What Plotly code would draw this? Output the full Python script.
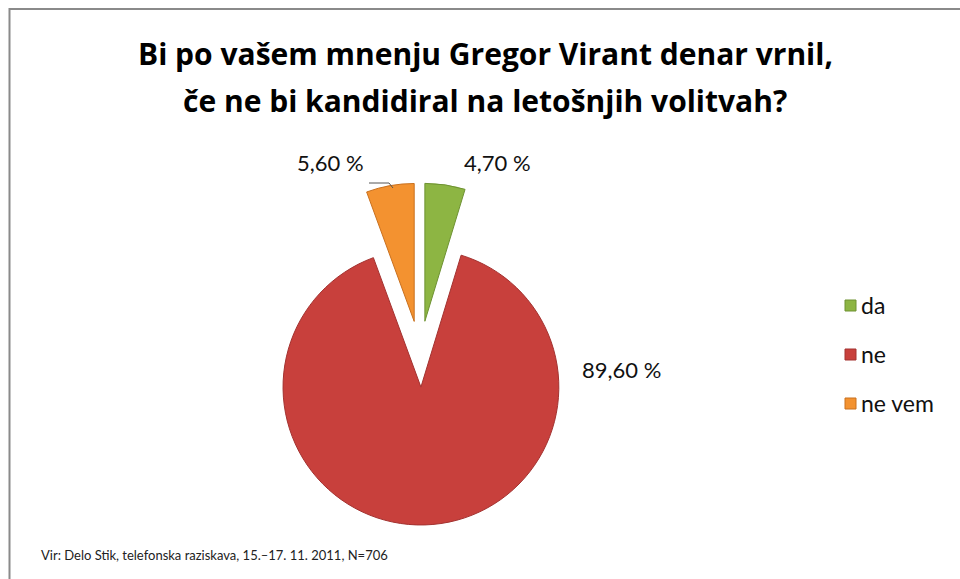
import plotly.graph_objects as go

# Data
categories = ["da", "ne", "ne vem"]
values = [4.70, 89.60, 5.60]
colors = ["#8DB543", "#C8403C", "#F39230"]
line_colors = ["#6E9232", "#A33230", "#C9701E"]

title_lines = ["Bi po vašem mnenju Gregor Virant denar vrnil,",
               "če ne bi kandidiral na letošnjih volitvah?"]
source_text = "Vir: Delo Stik, telefonska raziskava, 15.–17. 11. 2011, N=706"

W, H = 960, 579


def px(x):
    return x / W


def py(y):
    return 1 - y / H


def fmt(v):
    return f"{v:.2f}".replace(".", ",") + " %"


fig = go.Figure()
fig.add_trace(go.Pie(
    labels=categories,
    values=values,
    sort=False,
    direction="clockwise",
    rotation=0,
    pull=[0.24, 0.24, 0.24],
    marker=dict(colors=colors, line=dict(color=line_colors, width=1)),
    textinfo="none",
    hoverinfo="label+percent",
    showlegend=False,
    domain=dict(x=[px(249), px(591)], y=[py(525), py(183)]),
))

annotations = []
# Title lines
for i, (line, yc) in enumerate(zip(title_lines, [53, 100])):
    annotations.append(dict(
        text=f"<b>{line}</b>", x=px(485), y=py(yc), xref="paper", yref="paper",
        xanchor="center", yanchor="middle", showarrow=False,
        font=dict(family="Open Sans, Lato, sans-serif", size=30, color="#000000")))

# Data labels
label_pos = {"da": (497, 163, "center"), "ne": (621, 369, "center"), "ne vem": (330, 163, "center")}
for cat, v in zip(categories, values):
    x, y, anc = label_pos[cat]
    annotations.append(dict(
        text=fmt(v), x=px(x), y=py(y), xref="paper", yref="paper",
        xanchor=anc, yanchor="middle", showarrow=False,
        font=dict(family="Lato, Open Sans, sans-serif", size=22, color="#111111")))

# Manual legend
shapes = []
legend_y = [305, 354, 403]
for cat, col, lc, yc in zip(categories, colors, line_colors, legend_y):
    shapes.append(dict(type="rect", xref="paper", yref="paper",
                       x0=px(845), x1=px(856), y0=py(yc + 6), y1=py(yc - 5),
                       fillcolor=col, line=dict(color=lc, width=1)))
    annotations.append(dict(
        text=cat, x=px(859), y=py(yc), xref="paper", yref="paper",
        xanchor="left", yanchor="middle", showarrow=False,
        font=dict(family="Lato, Open Sans, sans-serif", size=23, color="#111111")))

# Source
annotations.append(dict(
    text=source_text, x=px(39), y=py(555), xref="paper", yref="paper",
    xanchor="left", yanchor="middle", showarrow=False,
    font=dict(family="Lato, sans-serif", size=13, color="#222222")))

# Leader line for 5,60 %
shapes.append(dict(type="path", xref="paper", yref="paper",
                   path=f"M {px(369)} {py(183)} L {px(389)} {py(183)} L {px(393)} {py(188)}",
                   line=dict(color="#555555", width=1)))

# Outer frame
shapes.append(dict(type="rect", xref="paper", yref="paper",
                   x0=px(9.5), x1=px(975), y0=py(600), y1=py(9),
                   line=dict(color="#8A8A8A", width=2), fillcolor="rgba(0,0,0,0)"))

fig.update_layout(
    width=W, height=H,
    margin=dict(l=0, r=0, t=0, b=0),
    paper_bgcolor="white", plot_bgcolor="white",
    annotations=annotations, shapes=shapes,
)

fig.write_html("out.html")
